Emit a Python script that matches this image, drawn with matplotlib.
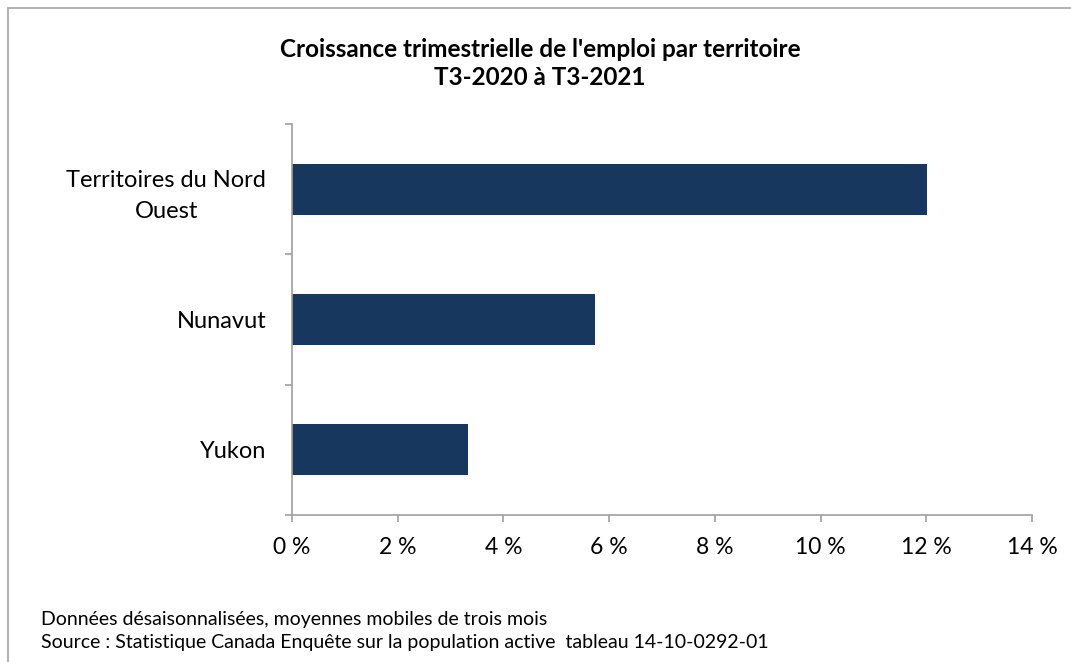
import matplotlib.pyplot as plt
from matplotlib.patches import Rectangle

# data
territories = ["Territoires du Nord\nOuest", "Nunavut", "Yukon"]
growth_pct = [12.02, 5.73, 3.33]
x_ticks = [0, 2, 4, 6, 8, 10, 12, 14]
x_tick_labels = [f"{t} %" for t in x_ticks]

title = "Croissance trimestrielle de l'emploi par territoire\nT3-2020 à T3-2021"
note_1 = "Données désaisonnalisées, moyennes mobiles de trois mois"
note_2 = "Source : Statistique Canada Enquête sur la population active  tableau 14-10-0292-01"

plt.rcParams['font.family'] = ['Lato', 'DejaVu Sans']

W, H = 1071, 662
fig = plt.figure(figsize=(W / 100, H / 100), dpi=100)

# figure border (cropped on right and bottom in the reference)
fig.patches.append(Rectangle((8 / W, -0.05), 1.1, 1 - 8 / H + 0.05,
                             transform=fig.transFigure, fill=False,
                             edgecolor="#A6A6A6", linewidth=1.2))

ax = fig.add_axes([292 / W, 1 - 515 / H, (1032 - 292) / W, (515 - 124) / H])

bar_color = "#17375E"
pos = list(range(len(territories)))[::-1]
ax.barh(pos, growth_pct, height=0.39, color=bar_color)

ax.set_xlim(0, 14)
ax.set_ylim(-0.5, len(territories) - 0.5)
ax.set_xticks(x_ticks)
ax.set_xticklabels(x_tick_labels, fontsize=16.5)

ax.set_yticks(pos)
ax.set_yticklabels(territories, fontsize=17, multialignment="center",
                   linespacing=1.6)
ax.tick_params(axis="y", length=0, pad=18.5)
# boundary ticks between categories
ax.set_yticks([-0.5, 0.5, 1.5, 2.5], minor=True)
ax.tick_params(axis="y", which="minor", length=5, color="#A0A0A0", width=1.2)
ax.tick_params(axis="x", length=5, color="#A0A0A0", width=1.2, pad=11)

for side in ["top", "right"]:
    ax.spines[side].set_visible(False)
for side in ["left", "bottom"]:
    ax.spines[side].set_color("#A0A0A0")
    ax.spines[side].set_linewidth(1.2)

fig.text(540 / W, 1 - 85 / H, title, ha="center", va="baseline",
         fontsize=17.5, fontweight="bold", linespacing=1.25)

fig.text(41 / W, 1 - 625 / H, note_1, ha="left", va="baseline", fontsize=14)
fig.text(41 / W, 1 - 648 / H, note_2, ha="left", va="baseline", fontsize=14)

fig.savefig("out.png", dpi=100)
